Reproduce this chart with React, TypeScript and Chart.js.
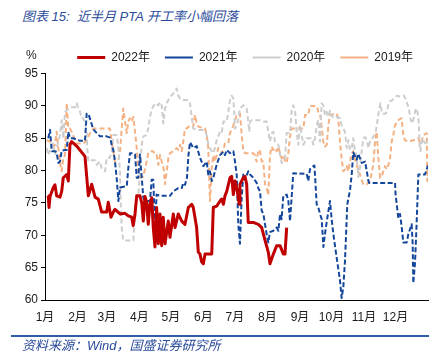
import React, { useEffect, useRef } from "react";
import { Chart, registerables } from "chart.js";

Chart.register(...registerables);

const monthDays = [0, 31, 59, 90, 120, 151, 181, 212, 243, 273, 304, 334];
const monthLabels = ["1月", "2月", "3月", "4月", "5月", "6月", "7月", "8月", "9月", "10月", "11月", "12月"];
const yTicks = [60, 65, 70, 75, 80, 85, 90, 95];
const seriesNames = ["2022年", "2021年", "2020年", "2019年"];

const days2022 = [3.1,3.8,4.8,7.9,9.5, 11.1,14.3,15.9,17.4,20.7, 22.2,23.8,25.4,30.2,38.1, 41.3,44.5,47.7,50.8,54, 58.8,60.3,62.9,65.1,66.7, 71.5,76.2,79.4,82.6,84.1, 85.8,87.4,90.5,92.2,93.7, 95.3,96.9,98.4,100,101.7, 103.2,104.8,106.4,108,109.6, 111.2,112.7,114.4,117.5,119.1, 122.3,123.9,127,130.3,133.4, 136.6,139.8,141.3,144.5,146.1, 147.7,149.3,150.9,152.5,158.9, 160.4,163.6,166.8,168.4,170, 171.5,173.2,176.3,177.9,179.5, 181.1,182.7,185.2,185.8,189, 190.6,192.2,193.7,198.5,203.3, 206.5,209.7,212.8,214.4,217.6, 220.8,224,227.1,228.7,230.3];
const values2022 = [76.1,74.3,76.0,77.4,77.8, 76.1,75.9,76.8,78.9,79.4, 78.4,84.0,84.5,83.8,82.2, 76.1,77.9,75.9,75.6,73.6, 73.6,75.1,72.8,73.6,74.0, 73.3,73.4,73.0,72.8,71.5, 73.3,76.1,76.1,75.0,72.2, 76.0,75.1,71.7,74.8,75.8, 71.2,68.2,74.3,68.7,73.3, 68.4,72.8,68.7,72.2,69.7, 73.3,71.2,73.3,72.2,71.7, 74.3,74.8,74.3,71.2,67.4, 67.1,65.9,65.6,67.1,67.1, 74.3,74.5,75.3,75.6,74.8, 76.1,76.8,78.9,79.1,76.3, 78.4,77.3,74.8,77.9,78.9, 79.1,77.9,72.0,72.0,71.7, 71.2,69.2,67.4,65.6,67.1, 68.4,68.4,67.1,67.1,71.2];

const days2021 = [3.1,4.8,6.4,9.5,11.1, 12.7,14.3,15.9,19.1,20.7, 22.2,23.8,27,33.4,38.1, 39.7,41.3,42.9,46,49.3, 52.4,58.8,61.9,63.6,65.1, 66.7,68.3,69.9,71.5,77.9, 79.4,81,84.2,85.8,87.4, 88.9,90.5,92.2,93.7,95.3, 100,101.7,103.2,104.8,106.4, 109.6,119.1,122.3,127,130.3, 131.8,133.4,135.3,136.6,138.2, 141.3,144.5,147.7,150.9,154.1, 155.6,157.2,158.9,160.4,163.6, 166.8,170,171.5,173.2,176.3, 179.5,181.1,182.7,184.2,185.8, 187.4,189,190.6,193.7,195.4, 198.5,201.7,203.3,204.9,206.5, 208.1,209.7,211.2,212.8,214.4, 217.6,220.8,222.4,224,225.5, 227.1,230.3,231.9,233.5,235.1, 236.6,249.4,250.9,252.5,255.7, 256.7,257.3,258.9,260.5,262.1, 263.7,265.3,266.8,268.4,271.6, 273.2,274.8,278,281.1,282.7, 284.3,285.9,288.1,290.7,292.3, 293.8,297,298.6,301.8,305, 306.6,308.2,308.9,333.6,334.1, 336.7,338.3,340,341.5,344.7, 346.3,349.4,350.4,351,352.6, 354.2,355.8,362.1,365];
const values2021 = [85.0,86.3,83.0,83.0,82.8, 81.2,81.4,83.1,83.2,83.2, 86.0,85.0,85.0,84.6,84.6, 88.8,88.8,88.0,86.4,85.8, 85.3,85.3,85.1,84.0,83.2, 81.4,78.9,75.3,77.4,77.6, 80.4,82.7,82.7,82.5,78.9, 78.9,82.5,78.9,75.8,75.3, 75.3,78.6,78.6,71.2,76.3, 76.1,76.1,76.8,77.3,77.3, 78.1,77.8,78.9,82.2,84.4, 83.5,83.8,82.0,80.7,81.4, 79.4,79.9,78.4,78.9,80.9, 82.4,82.9,82.4,83.2,82.7, 83.0,81.4,79.4,71.7,68.7, 75.8,79.4,78.6,79.9,79.4, 78.9,78.1,77.3,76.8,73.8, 73.3,71.7,70.2,68.9,70.5, 70.7,71.2,70.7,73.3,72.5, 76.1,76.3,75.3,72.2,76.0, 79.6,79.5,78.4,80.2,80.7, 80.8,79.4,74.8,74.3,73.3, 72.5,68.2,70.2,72.0,75.3, 72.5,70.2,66.5,63.1,60.3, 62.0,66.1,74.8,77.0,79.4, 82.8,81.7,82.6,81.2,81.4, 80.0,78.4,78.1,78.1,76.3, 72.7,73.3,71.2,68.9,68.9, 70.2,71.7,68.7,62.6,65.6, 72.0,79.4,79.4,80.8];

const days2020 = [1.6,3.1,4.8,7.9,9.5, 11.1,14.3,15.9,17.4,19.1, 20.7,23.8,28.6,30.2,31.7, 33.4,35,36.5,38.1,39.7, 40.3,41.3,44.5,47.7,49.3, 52.4,54,57.2,58.8,61.9, 63.6,65.1,68.3,69.9,70.8, 71.5,72.1,73.1,74.6,84.2, 85.8,87.4,88.9,90.5,92.2, 93.7,96.9,98.4,100,101.7, 104.8,108,109.6,111.2,112.7, 114.4,115.9,119.1,122.3,125.5, 127,128.7,131.8,136.6,138.2, 139.8,141.3,144.5,150.9,152.5, 154.1,155.6,157.2,158.9,160.4, 162,163.6,166.8,168.4,170, 173.2,174.7,176.3,177.9,179.5, 180.5,181.1,182.7,184.2,185.8, 189,192.2,193.7,194.7,195.4, 197,204.9,208.1,211.2,212.8, 214.4,216,217.6,219.2,220.8, 222.4,224,225.5,227.1,228.7, 230.3,233.5,235.1,236.6,238.3, 239.9,241.4,243,244.6,246.2, 249.4,254.2,255.7,257.3,258.9, 260.5,262.1,263.7,265.3,266.8, 268.4,270,271.6,273.2,274.8, 278,281.1,282.7,284.3,285.9, 287.5,289.1,290.7,292.3,293.8, 295.4,297,298.6,300.2,301.8, 303.4,305,306.6,308.2,310, 313,315.1,316.6,318,319.6, 321.2,324.4,326,327.6,330.8, 332.4,335.5,338.7,341.9,343.5, 345.1,346.7,348.2,349.8,351.4, 353,354.6,356.2,357,357.8, 359.4,361,362.5,364.1,365];
const values2020 = [83.5,82.4,83.2,84.2,82.4, 83.5,85.5,87.8,85.0,89.1, 89.3,89.8,89.8,90.4,89.6, 89.1,88.1,88.1,87.3,86.0, 83.5,81.4,81.6,81.6,80.9, 81.4,80.4,79.9,82.0,82.0, 83.0,85.5,85.5,83.5,81.4, 79.9,75.3,71.2,69.2,69.2, 74.3,75.8,76.0,79.9,84.0, 85.3,85.5,86.5,88.3,89.5, 90.4,90.1,90.6,90.1,87.3, 89.6,90.4,91.4,91.9,92.7, 91.6,91.1,90.9,90.9,90.4, 88.3,86.5,86.3,86.3,86.0, 85.5,84.0,83.5,83.0,82.7, 83.5,84.7,86.0,85.8,87.6, 87.6,89.1,90.9,91.6,91.1, 88.6,86.5,87.0,88.0,89.6, 90.1,89.6,87.6,86.0,87.6, 87.8,87.8,87.6,87.6,86.0, 84.5,85.8,86.0,84.5,84.2, 84.0,82.5,81.2,81.4,81.9, 85.8,85.8,89.3,90.1,89.3, 85.8,84.0,87.0,85.5,84.0, 85.0,85.0,84.0,85.0,87.0, 87.8,84.5,90.4,90.1,88.6, 89.1,88.3,89.3,88.6,88.1, 88.3,88.1,87.0,86.5,86.0, 83.5,84.7,83.2,83.5,85.0, 83.0,82.4,79.0,80.5,83.0, 85.0,85.2,84.7,83.5,84.7, 85.2,85.8,87.5,89.0,90.4, 88.8,88.8,89.1,90.6,90.9, 91.1,91.6,91.4,91.6,91.1, 90.4,89.6,88.1,87.3,88.1, 89.3,89.6,87.5,84.0,83.0, 85.0,84.5,84.2,84.7,84.2];

const days2019 = [1.6,4.8,7.9,9.5,11.1, 12.7,14.3,15.9,17.4,19.1, 20.7,22.2,23.8,25.4,28.6, 30.2,36.5,39.7,42.9,46, 61.9,63.6,65.1,66.7,69.9, 71.5,73.1,74.6,76.2,77.9, 79.4,81,82.6,84.2,85.8, 87.4,88.9,90.5,93.7,96.9, 98.4,100.1,103.2,104.8,106.4, 108,109.6,111.2,112.7,114.4, 116,117.5,119.1,122.3,125.5, 127,128.7,130.3,131.8,133.4, 135,138.2,141.3,142.9,144.6, 146.1,152.5,154.1,155.6,157.2, 158.9,160.4,162,163.6,165.2, 168.4,169.9,171.5,174.7,176.3, 179.5,182.7,184.2,185.8,187.5, 189,190.6,198.5,200.1,201.7, 203.3,204.9,206.5,208,209.7, 211.3,212.8,214.4,216,217.6, 219.2,220.8,222.3,224,225.6, 227.1,228.7,230.3,231.9,233.5, 235.1,246.2,247.8,250.9,252.5, 258.9,260.5,262.1,263.7,265.2, 266.8,268.5,270,271.6,278, 279.5,281.1,282.8,284.3,285.9, 287.5,289,290.7,292.3,293.8, 295.4,297,300.2,303.3,306.6, 309.7,312.9,314.5,316.1,317.6, 319.3,320.9,324,325.6,327.2, 328.8,330.4,331.9,333.6,336.7, 339.9,341.5,343.1,346.2,351, 355.8,357.4,358.9,360.5,363.8, 364.3,365];
const values2019 = [84.7,84.5,83.7,84.0,86.0, 83.5,81.2,79.9,82.0,82.4, 90.4,86.5,86.5,86.0,84.7, 84.2,84.2,84.7,85.8,86.5, 86.5,84.5,83.0,81.4,81.6, 83.0,86.5,89.6,87.6,85.8, 87.6,88.1,87.6,88.3,86.0, 83.5,80.0,78.9,79.1,81.4, 82.7,83.0,83.0,82.4,82.4, 80.9,82.4,81.4,80.9,77.9, 79.9,81.9,82.7,83.0,83.5, 83.2,84.0,83.0,84.5,86.5, 86.5,87.0,86.8,88.6,87.3, 86.8,86.5,85.5,83.5,75.3, 80.4,82.4,81.4,82.4,83.5, 82.7,83.2,84.2,84.2,85.8, 87.0,88.6,88.8,88.8,85.5, 83.0,82.7,82.7,82.4,81.4, 83.2,83.0,81.4,81.4,77.9, 77.3,76.2,82.4,83.7,83.2, 83.5,83.0,83.7,82.7,81.9, 82.4,81.4,81.2,82.7,85.3, 86.5,86.5,88.6,88.6,90.0, 90.0,89.1,88.8,86.8,84.5, 83.7,84.0,87.0,88.6,88.8, 88.1,84.5,81.7,79.9,80.2, 80.7,79.9,81.4,82.7,83.0, 81.7,80.9,79.4,77.9,77.9, 78.4,80.9,84.5,86.0,82.2, 78.9,79.1,80.7,80.2,80.9, 81.9,84.5,85.5,87.0,87.8, 88.1,85.5,84.7,84.5,84.7, 85.0,84.2,84.5,85.5,85.8, 78.4,80.0];

const FONT = '"Liberation Sans", Arial, "Noto Sans CJK SC", sans-serif';
const TEXT_COLOR = "#1a1a1a";
const BLUE_TEXT = "#2B4C9B";

function toPoints(days: number[], values: number[]) {
  const n = Math.min(days.length, values.length);
  const out: { x: number; y: number }[] = [];
  for (let i = 0; i < n; i++) out.push({ x: days[i], y: values[i] });
  return out;
}

export default function App() {
  const ref = useRef<HTMLCanvasElement | null>(null);

  useEffect(() => {
    if (!ref.current) return;
    const common = { pointRadius: 0, pointHoverRadius: 0, tension: 0, fill: false, borderJoinStyle: "round" as const };
    const chart = new Chart(ref.current, {
      type: "line",
      data: {
        datasets: [
          { ...common, label: seriesNames[0], data: toPoints(days2022, values2022), borderColor: "#C00000", backgroundColor: "#C00000", borderWidth: 3 },
          { ...common, label: seriesNames[1], data: toPoints(days2021, values2021), borderColor: "#14479B", backgroundColor: "#14479B", borderWidth: 2, borderDash: [5, 2.5] },
          { ...common, label: seriesNames[2], data: toPoints(days2020, values2020), borderColor: "#CDCDCD", backgroundColor: "#CDCDCD", borderWidth: 2, borderDash: [5, 3] },
          { ...common, label: seriesNames[3], data: toPoints(days2019, values2019), borderColor: "#F4B183", backgroundColor: "#F4B183", borderWidth: 2, borderDash: [5, 3] },
        ],
      },
      options: {
        responsive: false,
        animation: false,
        events: [],
        layout: { padding: { left: 10, right: 20, top: 36.6, bottom: 25 } },
        plugins: {
          legend: {
            position: "top",
            align: "end",
            labels: {
              usePointStyle: true,
              pointStyle: "line",
              pointStyleWidth: 28,
              padding: 15,
              color: TEXT_COLOR,
              font: { size: 12, family: FONT },
            },
          },
          tooltip: { enabled: false },
        },
        scales: {
          x: {
            type: "linear",
            min: 0,
            max: 365,
            afterBuildTicks: (s: any) => {
              s.ticks = monthDays.map((v) => ({ value: v }));
            },
            afterFit: (s: any) => {
              s.height = 31;
            },
            ticks: {
              autoSkip: false,
              maxRotation: 0,
              padding: 2,
              color: TEXT_COLOR,
              font: { size: 12, family: FONT },
              callback: (_v: any, i: number) => monthLabels[i],
            },
            grid: { display: false },
            border: { display: true, color: "#000", width: 1 },
          },
          y: {
            min: 60,
            max: 95,
            afterBuildTicks: (s: any) => {
              s.ticks = yTicks.map((v) => ({ value: v }));
            },
            afterFit: (s: any) => {
              s.width = 35;
            },
            ticks: {
              padding: 3,
              color: TEXT_COLOR,
              font: { size: 12, family: FONT },
            },
            grid: { drawOnChartArea: false, drawTicks: true, tickLength: 4, color: "#000" },
            border: { display: true, color: "#000", width: 1 },
          },
        },
      },
    });
    return () => chart.destroy();
  }, []);

  return (
    <div style={{ position: "fixed", left: 0, top: 0, width: 448, height: 356, background: "#fff", overflow: "hidden", fontFamily: FONT }}>
      <div style={{ position: "absolute", left: 22, top: 9, fontSize: 13, fontStyle: "italic", color: BLUE_TEXT, whiteSpace: "pre", lineHeight: "16px" }}>
        图表 15:  近半月 PTA 开工率小幅回落
      </div>
      <canvas ref={ref} width={448} height={356} style={{ position: "absolute", left: 0, top: 0 }} />
      <div style={{ position: "absolute", left: 26, top: 48, fontSize: 12, color: TEXT_COLOR, lineHeight: "14px" }}>%</div>
      <div style={{ position: "absolute", left: 11, top: 335, width: 418, height: 2, background: "#2F5EA8" }} />
      <div style={{ position: "absolute", left: 22, top: 338, fontSize: 13, fontStyle: "italic", color: BLUE_TEXT, whiteSpace: "pre", lineHeight: "16px" }}>
        资料来源：Wind，国盛证券研究所
      </div>
    </div>
  );
}
